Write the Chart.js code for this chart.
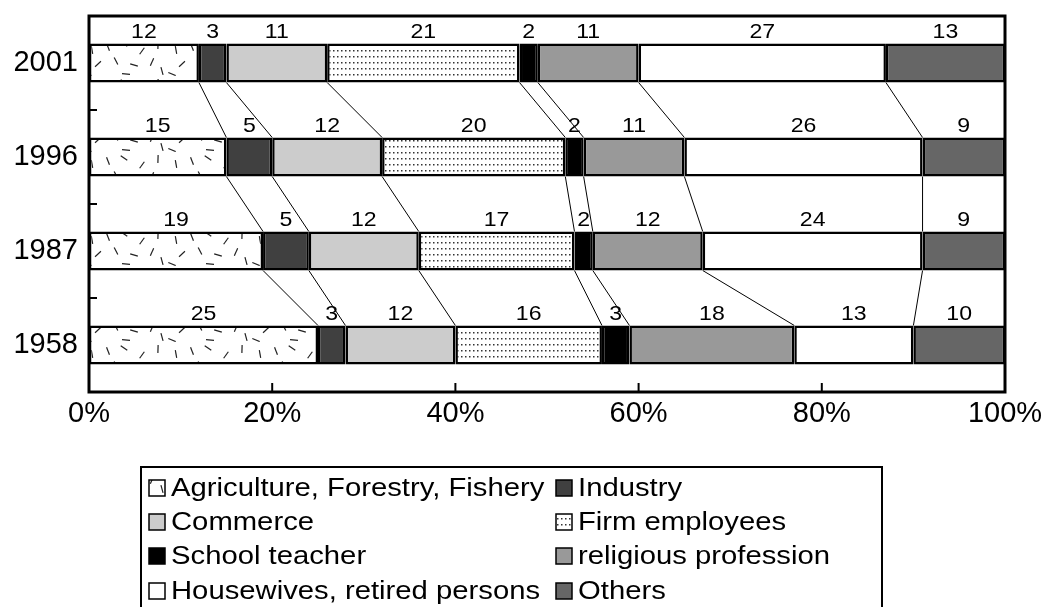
<!DOCTYPE html>
<html>
<head>
<meta charset="utf-8">
<script src="https://cdn.jsdelivr.net/npm/chart.js@4.4.1/dist/chart.umd.min.js"></script>
<style>
  html, body { margin: 0; padding: 0; background: #fff; }
  canvas { display: block; }
</style>
</head>
<body>
<canvas id="myChart" width="1043" height="607"></canvas>
<script>
// years, top to bottom
const years = ["2001", "1996", "1987", "1958"];

// shares in percent per occupation
const agriculture = [12, 15, 19, 25];
const industry = [3, 5, 5, 3];
const commerce = [11, 12, 12, 12];
const firmEmployees = [21, 20, 17, 16];
const schoolTeacher = [2, 2, 2, 3];
const religious = [11, 11, 12, 18];
const housewives = [27, 26, 24, 13];
const others = [13, 9, 9, 10];

const seriesNames = [
  "Agriculture, Forestry, Fishery", "Industry", "Commerce", "Firm employees",
  "School teacher", "religious profession", "Housewives, retired persons", "Others"
];
const xTicks = [0, 20, 40, 60, 80, 100];

const FONT = "'Liberation Sans', Arial, Helvetica, sans-serif";

// scattered dash pattern (agriculture)
function dashPattern() {
  const c = document.createElement("canvas");
  c.width = 84; c.height = 38;
  const g = c.getContext("2d");
  g.fillStyle = "#fff";
  g.fillRect(0, 0, 84, 38);
  g.strokeStyle = "#222";
  g.lineWidth = 1.2;
  const marks = [
    [8, 12, 1.4], [24, 9, 1.2], [40, 6, 0.6], [58, 13, 2.2], [74, 7, 1.6],
    [14, 26, 2.4], [32, 23, 1.1], [50, 27, 0.3], [68, 24, 2.0],
    [4, 36, 0.4], [42, 36, 0.1], [78, 33, 1.3]
  ];
  marks.forEach(([x, y, a]) => {
    const dx = Math.cos(a) * 4, dy = Math.sin(a) * 4;
    g.beginPath();
    g.moveTo(x - dx, y - dy);
    g.lineTo(x + dx, y + dy);
    g.stroke();
  });
  return g.createPattern(c, "repeat");
}

// dot pattern (firm employees)
function dotPattern() {
  const c = document.createElement("canvas");
  c.width = 4; c.height = 6;
  const g = c.getContext("2d");
  g.fillStyle = "#fff";
  g.fillRect(0, 0, 4, 6);
  g.fillStyle = "#333";
  g.fillRect(1, 2, 1.5, 1.5);
  return g.createPattern(c, "repeat");
}

const fills = [
  dashPattern(), "#404040", "#cccccc", dotPattern(),
  "#000000", "#999999", "#ffffff", "#666666"
];
const values = [agriculture, industry, commerce, firmEmployees, schoolTeacher, religious, housewives, others];

// text drawn a bit wider than the font, like the original
function wideText(ctx, txt, x, y, sx) {
  ctx.save();
  ctx.translate(x, y);
  ctx.scale(sx, 1);
  ctx.fillText(txt, 0, 0);
  ctx.restore();
}

const decor = {
  id: "decor",
  afterDatasetsDraw(chart) {
    const ctx = chart.ctx;
    const area = chart.chartArea;
    const xs = chart.scales.x, ys = chart.scales.y;
    ctx.save();

    // connecting lines between bars
    ctx.strokeStyle = "#000";
    ctx.lineWidth = 1;
    for (let d = 0; d < values.length - 1; d++) {
      const els = chart.getDatasetMeta(d).data;
      for (let i = 0; i < els.length - 1; i++) {
        const a = els[i].getProps(["x", "y", "height"], true);
        const b = els[i + 1].getProps(["x", "y", "height"], true);
        ctx.beginPath();
        ctx.moveTo(a.x, a.y + a.height / 2);
        ctx.lineTo(b.x, b.y - b.height / 2);
        ctx.stroke();
      }
    }

    // value labels above each segment
    ctx.fillStyle = "#000";
    ctx.font = "21px " + FONT;
    ctx.textAlign = "center";
    ctx.textBaseline = "middle";
    values.forEach((arr, d) => {
      chart.getDatasetMeta(d).data.forEach((el, i) => {
        const p = el.getProps(["x", "y", "base", "height"], true);
        wideText(ctx, String(arr[i]), (p.x + p.base) / 2, p.y - p.height / 2 - 11, 1.1);
      });
    });

    // inner tick marks
    ctx.lineWidth = 2;
    for (let i = 0; i < years.length - 1; i++) {
      const yb = (ys.getPixelForValue(i) + ys.getPixelForValue(i + 1)) / 2;
      ctx.beginPath();
      ctx.moveTo(area.left, yb);
      ctx.lineTo(area.left + 8, yb);
      ctx.stroke();
    }
    xTicks.slice(1, -1).forEach(v => {
      const xp = xs.getPixelForValue(v);
      ctx.beginPath();
      ctx.moveTo(xp, area.bottom);
      ctx.lineTo(xp, area.bottom - 9);
      ctx.stroke();
    });

    // plot frame
    ctx.lineWidth = 3;
    ctx.strokeRect(area.left, area.top, area.right - area.left, area.bottom - area.top);

    // legend
    ctx.lineWidth = 2;
    ctx.strokeRect(141, 467, 741, 160);
    const colX = [149, 556];
    const rowY = [488, 522, 556, 591];
    ctx.font = "25px " + FONT;
    ctx.textAlign = "left";
    seriesNames.forEach((name, k) => {
      const x = colX[k % 2], y = rowY[Math.floor(k / 2)];
      ctx.fillStyle = fills[k];
      ctx.fillRect(x, y - 8, 16, 16);
      ctx.lineWidth = 1.5;
      ctx.strokeStyle = "#000";
      ctx.strokeRect(x, y - 8, 16, 16);
      ctx.fillStyle = "#000";
      wideText(ctx, name, x + 22, y + 1, 1.17);
    });
    ctx.restore();
  }
};

new Chart(document.getElementById("myChart"), {
  type: "bar",
  data: {
    labels: years,
    datasets: values.map((arr, d) => ({
      label: seriesNames[d],
      data: arr,
      backgroundColor: fills[d],
      borderColor: "#000",
      borderWidth: 2.5,
      borderSkipped: false,
      barPercentage: 0.415,
      categoryPercentage: 1
    }))
  },
  options: {
    indexAxis: "y",
    responsive: false,
    animation: false,
    layout: { padding: { left: 0, right: 38, top: 16, bottom: 175 } },
    plugins: {
      legend: { display: false },
      tooltip: { enabled: false }
    },
    scales: {
      x: {
        stacked: true,
        min: 0,
        max: 100,
        afterBuildTicks: s => { s.ticks = xTicks.map(v => ({ value: v })); },
        afterFit: s => { s.height = 40; s.paddingLeft = 0; s.paddingRight = 0; },
        grid: { display: false, drawTicks: false },
        border: { display: false },
        ticks: {
          color: "#000",
          font: { family: FONT, size: 29 },
          padding: 5,
          maxRotation: 0,
          callback: v => v + "%"
        }
      },
      y: {
        stacked: true,
        afterFit: s => { s.width = 89; s.paddingTop = 0; s.paddingBottom = 0; },
        grid: { display: false, drawTicks: false },
        border: { display: false },
        ticks: {
          color: "#000",
          font: { family: FONT, size: 29 },
          padding: 11
        }
      }
    }
  },
  plugins: [decor]
});
</script>
</body>
</html>
